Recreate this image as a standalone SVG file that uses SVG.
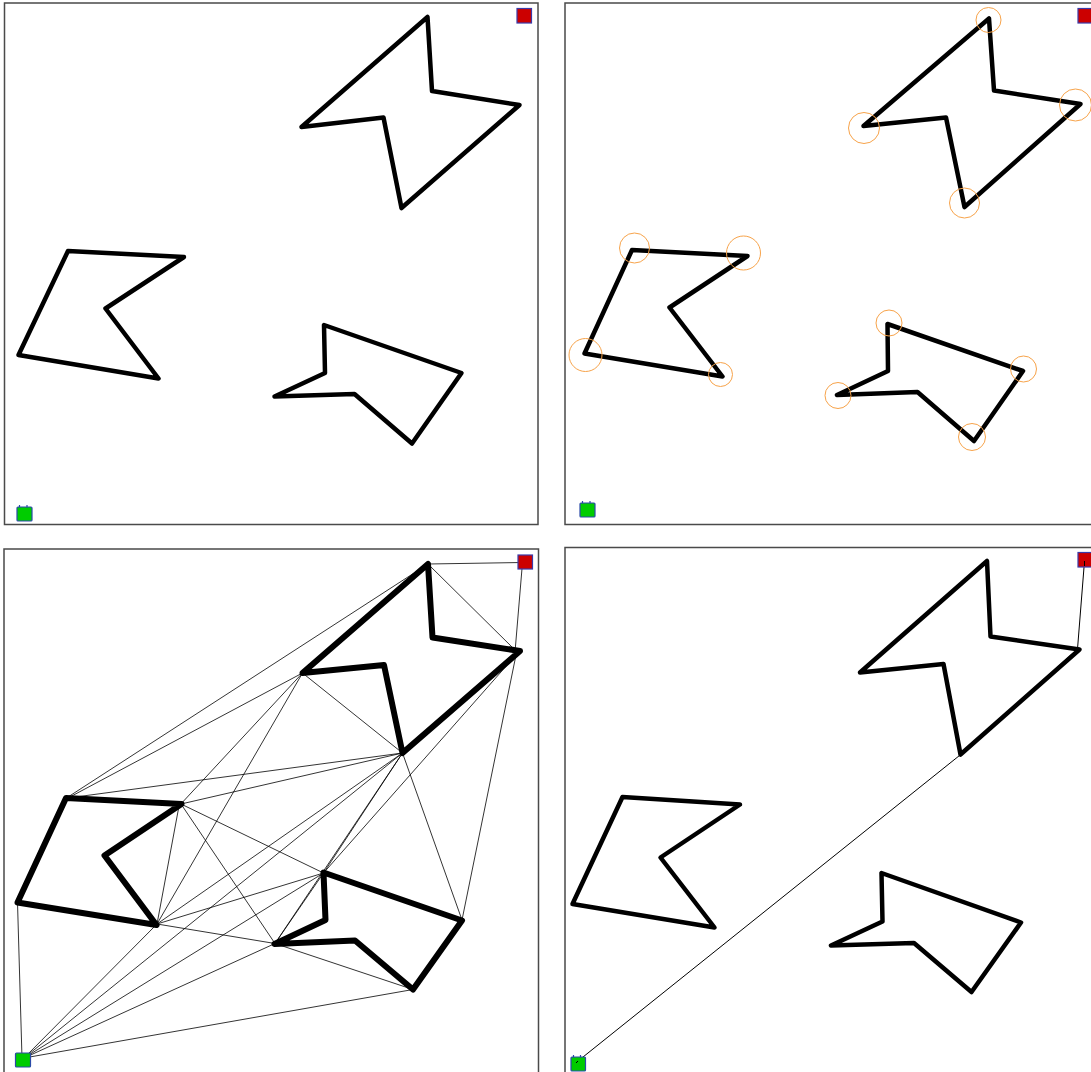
<svg xmlns="http://www.w3.org/2000/svg" width="1091" height="1072" viewBox="0 0 1091 1072">
<style>
.bg{fill:#ffffff}
.frame{fill:#ffffff;stroke:#4a4a4a;stroke-width:1.5}
.obs{fill:none;stroke:#000;stroke-width:4.5;stroke-linejoin:round;stroke-linecap:round}
.obs3{fill:none;stroke:#000;stroke-width:6;stroke-linejoin:round;stroke-linecap:round}
.goal{fill:#cc0000;stroke:#3a3aa8;stroke-width:1.2}
.start{fill:#00cc00;stroke:#2a4aa8;stroke-width:1.2}
.tab{stroke:#2a4aa8;stroke-width:1.2}
.ring{fill:none;stroke:#f7a34a;stroke-width:1}
.edge{stroke:#000;stroke-width:0.8;fill:none}
.path{stroke:#000;stroke-width:1;fill:none}
</style>
<rect class="bg" x="0" y="0" width="1091" height="1072"/>

<!-- Panel 1 -->
<g id="panel1">
<rect class="frame" x="4.5" y="3" width="533.5" height="521.5"/>
<g id="p1-obstacle-a"><polygon class="obs" points="427.5,17 432,91 519.5,105 401.5,208 383.5,117.5 301.5,127"/></g>
<g id="p1-obstacle-b"><polygon class="obs" points="68,251 184,257 105.5,308.5 158.5,378.5 18.5,355"/></g>
<g id="p1-obstacle-c"><polygon class="obs" points="324,325 325,373 274.5,396.5 354.5,394 412,443.5 461.5,373"/></g>
<g id="p1-goal"><rect class="goal" x="517" y="8.5" width="14.5" height="14.5"/></g>
<g id="p1-start"><rect class="start" x="17" y="507" width="15" height="14" rx="1"/><line class="tab" x1="19.5" y1="505" x2="19.5" y2="507.5"/><line class="tab" x1="27" y1="505" x2="27" y2="507.5"/></g>
</g>

<!-- Panel 2 -->
<g id="panel2">
<rect class="frame" x="565" y="3" width="540" height="521.5"/>
<g id="p2-obstacle-a"><polygon class="obs" points="989,18.5 994,90.5 1080.5,104 964.5,207 946,117.5 863.5,126"/></g>
<g id="p2-obstacle-b"><polygon class="obs" points="632,250 747.5,256 669.5,307.5 722.5,376.5 584.5,353.5"/></g>
<g id="p2-obstacle-c"><polygon class="obs" points="887.5,324 888,371 837,395 917.5,392 974,441 1023,371"/></g>
<g id="p2-goal"><rect class="goal" x="1078" y="8.5" width="14.5" height="14.5"/></g>
<g id="p2-start"><rect class="start" x="580" y="503" width="15" height="14" rx="1"/><line class="tab" x1="582.5" y1="501" x2="582.5" y2="503.5"/><line class="tab" x1="590" y1="501" x2="590" y2="503.5"/></g>
<g id="p2-vertices">
<circle class="ring" cx="988.5" cy="20" r="12.5"/>
<circle class="ring" cx="1075.5" cy="105" r="16"/>
<circle class="ring" cx="864" cy="128" r="15.5"/>
<circle class="ring" cx="964.5" cy="203" r="15"/>
<circle class="ring" cx="634.5" cy="248" r="15"/>
<circle class="ring" cx="743.5" cy="253" r="17"/>
<circle class="ring" cx="585.5" cy="355" r="16.5"/>
<circle class="ring" cx="720.5" cy="374.5" r="12"/>
<circle class="ring" cx="889" cy="323" r="13"/>
<circle class="ring" cx="838" cy="395.5" r="13"/>
<circle class="ring" cx="1023.5" cy="369" r="13"/>
<circle class="ring" cx="972" cy="437" r="13.5"/>
</g>
</g>

<!-- Panel 3 -->
<g id="panel3">
<rect class="frame" x="4" y="549" width="534.5" height="530"/>
<g id="p3-edges">
<line class="edge" x1="428" y1="564" x2="522.5" y2="562.5"/>
<line class="edge" x1="522.5" y1="562.5" x2="515" y2="652"/>
<line class="edge" x1="428" y1="564" x2="515" y2="650"/>
<line class="edge" x1="428" y1="564" x2="68" y2="797"/>
<line class="edge" x1="302.5" y1="673" x2="68" y2="798"/>
<line class="edge" x1="302.5" y1="673" x2="402.5" y2="753"/>
<line class="edge" x1="302.5" y1="673" x2="157" y2="924"/>
<line class="edge" x1="302.5" y1="673" x2="179" y2="806"/>
<line class="edge" x1="68" y1="798" x2="402.5" y2="753"/>
<line class="edge" x1="181" y1="804" x2="402.5" y2="753"/>
<line class="edge" x1="402.5" y1="753" x2="323.5" y2="873"/>
<line class="edge" x1="402.5" y1="753" x2="462" y2="920"/>
<line class="edge" x1="402.5" y1="753" x2="157" y2="924"/>
<line class="edge" x1="402.5" y1="753" x2="275" y2="943.5"/>
<line class="edge" x1="402.5" y1="753" x2="24" y2="1058"/>
<line class="edge" x1="516" y1="655" x2="462" y2="920"/>
<line class="edge" x1="516" y1="655" x2="323.5" y2="873"/>
<line class="edge" x1="181" y1="804" x2="323.5" y2="873"/>
<line class="edge" x1="181" y1="804" x2="275" y2="943.5"/>
<line class="edge" x1="179" y1="806" x2="157" y2="924"/>
<line class="edge" x1="17.5" y1="902.5" x2="22" y2="1058"/>
<line class="edge" x1="157" y1="924" x2="323.5" y2="873"/>
<line class="edge" x1="157" y1="924" x2="275" y2="943.5"/>
<line class="edge" x1="157" y1="924" x2="24" y2="1058"/>
<line class="edge" x1="275" y1="943.5" x2="413" y2="989.5"/>
<line class="edge" x1="275" y1="943.5" x2="24" y2="1058"/>
<line class="edge" x1="323.5" y1="873" x2="24" y2="1058"/>
<line class="edge" x1="323.5" y1="873" x2="275" y2="943.5"/>
<line class="edge" x1="413" y1="989.5" x2="24" y2="1058"/>
</g>
<g id="p3-obstacle-a"><polygon class="obs3" points="428,564 432.5,637.5 520,651 402.5,753 384,665 302.5,673"/></g>
<g id="p3-obstacle-b"><polygon class="obs3" points="66,798 181.5,804 104.5,855.5 156.5,925 17.5,902.5"/></g>
<g id="p3-obstacle-c"><polygon class="obs3" points="323.5,872.5 325.5,920 274.5,944 355,940.5 413,989.5 462,920.5"/></g>
<g id="p3-goal"><rect class="goal" x="518" y="555" width="14.5" height="14"/></g>
<g id="p3-start"><rect class="start" x="15.5" y="1053" width="15" height="14" rx="1"/></g>
</g>

<!-- Panel 4 -->
<g id="panel4">
<rect class="frame" x="565" y="547.5" width="540" height="530"/>
<g id="p4-path">
<polyline class="path" points="578,1061 959.5,755.5 1077.5,649 1084.5,561"/>
</g>
<g id="p4-obstacle-a"><polygon class="obs" points="987,561 990.5,636.5 1079.5,649.5 960.5,754.5 943.5,664 860,672.5"/></g>
<g id="p4-obstacle-b"><polygon class="obs" points="622.5,797 740,804.5 660.5,857.5 714.5,927.5 572.5,904"/></g>
<g id="p4-obstacle-c"><polygon class="obs" points="881.5,873 882.5,921.5 831,945.5 914,943 971.5,992 1021,922.5"/></g>
<g id="p4-goal"><rect class="goal" x="1078" y="552.5" width="14.5" height="14.5"/></g>
<g id="p4-start"><rect class="start" x="571" y="1057" width="14.5" height="14" rx="1"/><line class="tab" x1="573.5" y1="1055" x2="573.5" y2="1057.5"/><line class="tab" x1="580.5" y1="1055" x2="580.5" y2="1057.5"/></g>
<line class="path" x1="1084.5" y1="561" x2="1084.5" y2="566"/>
<line class="path" x1="578" y1="1061" x2="576" y2="1063"/>
</g>
</svg>
